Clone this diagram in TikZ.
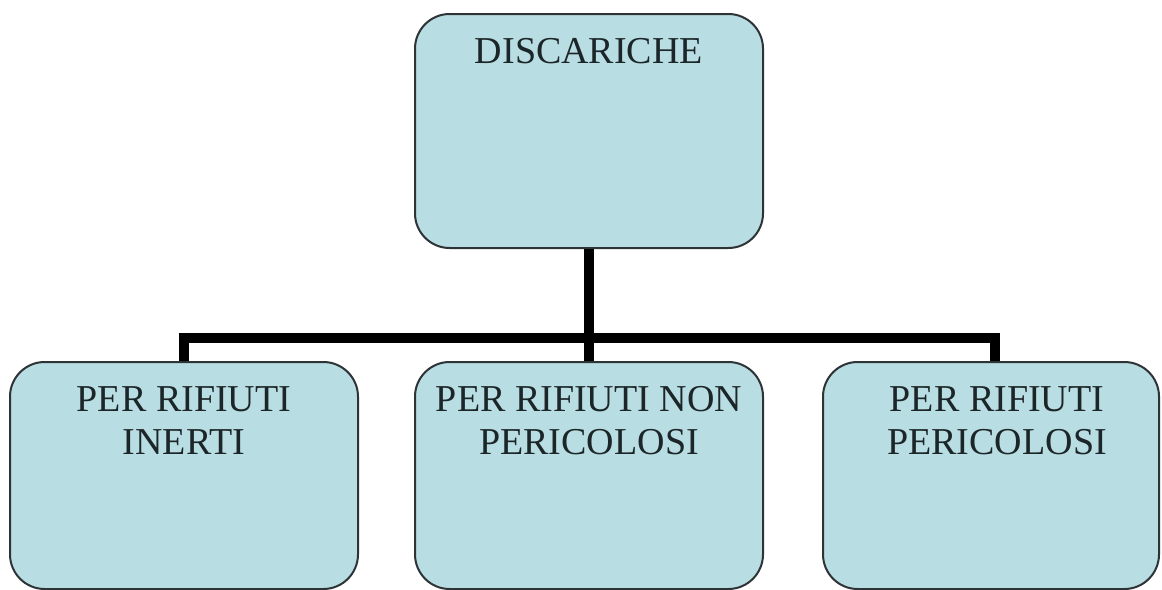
\documentclass[tikz,border=0pt]{standalone}
\usepackage{fontspec}
\setmainfont{Liberation Serif}
\definecolor{boxfill}{HTML}{B8DDE3}
\definecolor{boxline}{HTML}{2E3436}
\definecolor{txt}{HTML}{1C2628}
\newcommand{\boxtext}[3]{\parbox[c][#1][t]{#2}{\centering\fontsize{28.5}{32.25}\selectfont\vspace*{14.2pt}\strut #3}}
\tikzset{
  catbox/.style={draw=boxline, line width=1.5pt, fill=boxfill, rounded corners=26pt,
    inner sep=0pt, text=txt, anchor=north},
  link/.style={line width=7.5pt, line join=miter, draw=black}
}
\begin{document}
\begin{tikzpicture}[x=0.75pt, y=-0.75pt]
\useasboundingbox[fill=white] (0,0) rectangle (1162,589);
\node[catbox] (top) at (589,13) {\boxtext{175.5pt}{261pt}{DISCARICHE}};
\node[catbox] (left) at (184,361) {\boxtext{170.25pt}{261pt}{PER RIFIUTI\\INERTI}};
\node[catbox] (mid) at (589,361) {\boxtext{170.25pt}{261pt}{PER RIFIUTI NON\\PERICOLOSI}};
\node[catbox] (right) at (991,361) {\boxtext{170.25pt}{252pt}{\hspace*{9pt}PER RIFIUTI\\\hspace*{9pt}PERICOLOSI}};
\coordinate (j) at (589,338);
\draw[link] (top.south) -- (mid.north);
\draw[link] (left.north) |- (j) -| ([xshift=3pt]right.north);
\end{tikzpicture}
\end{document}
